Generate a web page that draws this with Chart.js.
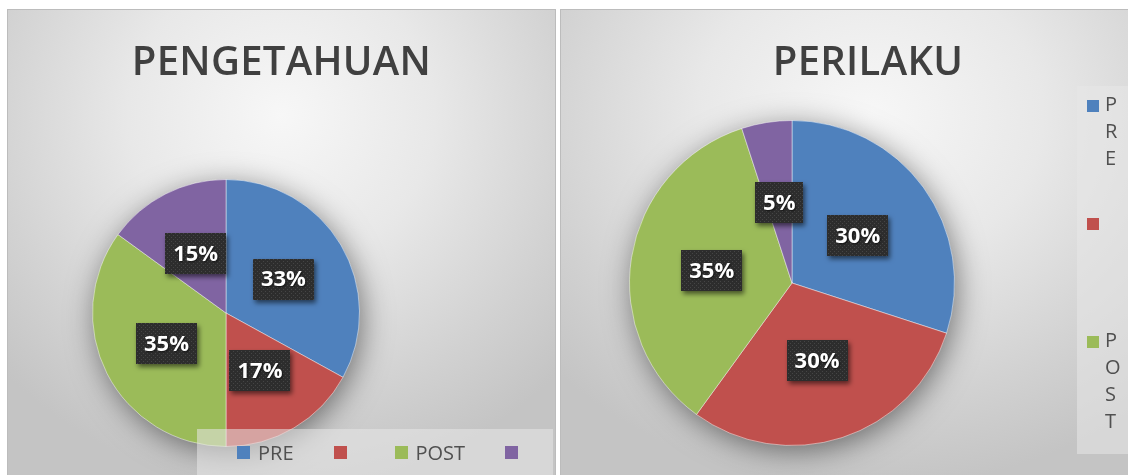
<!DOCTYPE html>
<html>
<head>
<meta charset="utf-8">
<script src="https://cdn.jsdelivr.net/npm/chart.js@4.4.1/dist/chart.umd.min.js"></script>
<style>
  html, body { margin: 0; padding: 0; }
  body { width: 1128px; height: 475px; overflow: hidden; background: #fff; position: relative; font-family: "Open Sans", sans-serif; }
  .panel { position: absolute; top: 9px; height: 480px; box-sizing: border-box; border: 1px solid #bcbcbc;
    background: radial-gradient(ellipse 70% 78% at 50% 22%, #f7f7f7 0%, #e8e8e8 40%, #d2d2d2 76%, #c4c4c4 100%); }
  #p1 { left: 7px; width: 549px; }
  #p2 { left: 560px; width: 620px; }
  canvas { position: absolute; top: 9px; }
  #c1 { left: 7px; }
  #c2 { left: 560px; }
  .title { position: absolute; top: 35px; line-height: 50px; font-size: 40px; font-weight: 600; color: #404040; text-align: center; white-space: nowrap; letter-spacing: 0.3px; }
  #t1 { left: 7px; width: 549px; }
  #t2 { left: 560px; width: 616px; }
  .legend { position: absolute; background: rgba(232, 232, 232, 0.55); font-size: 20px; color: #505050; box-sizing: border-box; overflow: hidden; }
  .legend .sw { flex: none; }
  #l1 { left: 197px; top: 429px; width: 356px; height: 60px; padding: 10px 0 0 40px; display: flex; gap: 40px; }
  #l1 .item { display: flex; align-items: center; height: 27px; line-height: 27px; }
  #l1 .sw { width: 13px; height: 13px; margin-right: 8px; }
  #l2 { left: 1077px; top: 86px; width: 110px; height: 368px; padding: 4px 0 0 10px; }
  #l2 .item { display: flex; align-items: flex-start; height: 118px; }
  #l2 .sw { width: 12px; height: 12px; margin-top: 10px; margin-right: 6px; }
  #l2 .txt { width: 14px; line-height: 27px; word-break: break-all; }
</style>
</head>
<body>
<div class="panel" id="p1"></div>
<div class="panel" id="p2"></div>
<canvas id="c1" width="549" height="466"></canvas>
<canvas id="c2" width="568" height="466"></canvas>
<div class="title" id="t1"></div>
<div class="title" id="t2"></div>
<div class="legend" id="l1"></div>
<div class="legend" id="l2"></div>
<script>
const titles = ['PENGETAHUAN', 'PERILAKU'];
const categories = ['PRE', '', 'POST', ''];
const pengetahuan = [33, 17, 35, 15];
const perilaku = [30, 30, 35, 5];

const sliceColors = ['#4f81bd', '#c0504d', '#9bbb59', '#8064a2'];

Chart.defaults.font.family = '"Open Sans", sans-serif';

// small dotted tile for the dark value boxes
function dotPattern(ctx) {
  const tile = document.createElement('canvas');
  tile.width = 4; tile.height = 4;
  const t = tile.getContext('2d');
  t.fillStyle = '#2d2d2d';
  t.fillRect(0, 0, 4, 4);
  t.fillStyle = '#454545';
  t.fillRect(0, 0, 1, 1);
  t.fillRect(2, 2, 1, 1);
  return ctx.createPattern(tile, 'repeat');
}

// soft shadow under the whole pie
const pieShadow = {
  id: 'pieShadow',
  beforeDatasetsDraw(chart) {
    const arc = chart.getDatasetMeta(0).data[0];
    if (!arc) return;
    const ctx = chart.ctx;
    ctx.save();
    ctx.shadowColor = 'rgba(0,0,0,0.5)';
    ctx.shadowBlur = 30;
    ctx.shadowOffsetX = 3;
    ctx.shadowOffsetY = 6;
    ctx.fillStyle = '#8c8c8c';
    ctx.beginPath();
    ctx.arc(arc.x, arc.y, arc.outerRadius - 1, 0, Math.PI * 2);
    ctx.fill();
    ctx.restore();
  }
};

// percentage labels in dark boxes at the middle of each slice
const valueBoxes = {
  id: 'valueBoxes',
  afterDatasetsDraw(chart) {
    const ctx = chart.ctx;
    const values = chart.data.datasets[0].data;
    const fill = dotPattern(ctx);
    ctx.save();
    ctx.font = 'bold 22px "Open Sans"';
    ctx.textAlign = 'center';
    ctx.textBaseline = 'middle';
    chart.getDatasetMeta(0).data.forEach((arc, i) => {
      const pos = arc.tooltipPosition();
      const text = values[i] + '%';
      const w = Math.round(ctx.measureText(text).width + 16);
      const h = 41;
      const x = Math.round(pos.x - w / 2), y = Math.round(pos.y - h / 2);
      ctx.shadowColor = 'rgba(0,0,0,0.55)';
      ctx.shadowBlur = 5;
      ctx.shadowOffsetX = 2;
      ctx.shadowOffsetY = 3;
      ctx.fillStyle = fill;
      ctx.fillRect(x, y, w, h);
      ctx.shadowColor = 'rgba(0,0,0,0.6)';
      ctx.shadowBlur = 2;
      ctx.shadowOffsetX = 1;
      ctx.shadowOffsetY = 1;
      ctx.fillStyle = '#ffffff';
      ctx.fillText(text, pos.x, pos.y + 1);
    });
    ctx.restore();
  }
};

function makePie(id, values, padding) {
  return new Chart(document.getElementById(id), {
    type: 'pie',
    data: {
      labels: categories,
      datasets: [{
        data: values,
        backgroundColor: sliceColors,
        borderColor: 'rgba(255,255,255,0.45)',
        borderWidth: 1,
        hoverOffset: 0
      }]
    },
    options: {
      responsive: false,
      animation: false,
      layout: { padding: padding },
      plugins: {
        legend: { display: false },
        title: { display: false },
        tooltip: { enabled: false }
      }
    },
    plugins: [pieShadow, valueBoxes]
  });
}

makePie('c1', pengetahuan, { left: 85, right: 196, top: 170, bottom: 28 });
makePie('c2', perilaku, { left: 69, right: 173, top: 111, bottom: 29 });

document.getElementById('t1').textContent = titles[0];
document.getElementById('t2').textContent = titles[1];

function buildLegend(id) {
  const box = document.getElementById(id);
  categories.forEach((label, i) => {
    const item = document.createElement('div');
    item.className = 'item';
    const sw = document.createElement('span');
    sw.className = 'sw';
    sw.style.background = sliceColors[i];
    const txt = document.createElement('span');
    txt.className = 'txt';
    txt.textContent = label;
    item.appendChild(sw);
    item.appendChild(txt);
    box.appendChild(item);
  });
}
buildLegend('l1');
buildLegend('l2');
</script>
</body>
</html>
